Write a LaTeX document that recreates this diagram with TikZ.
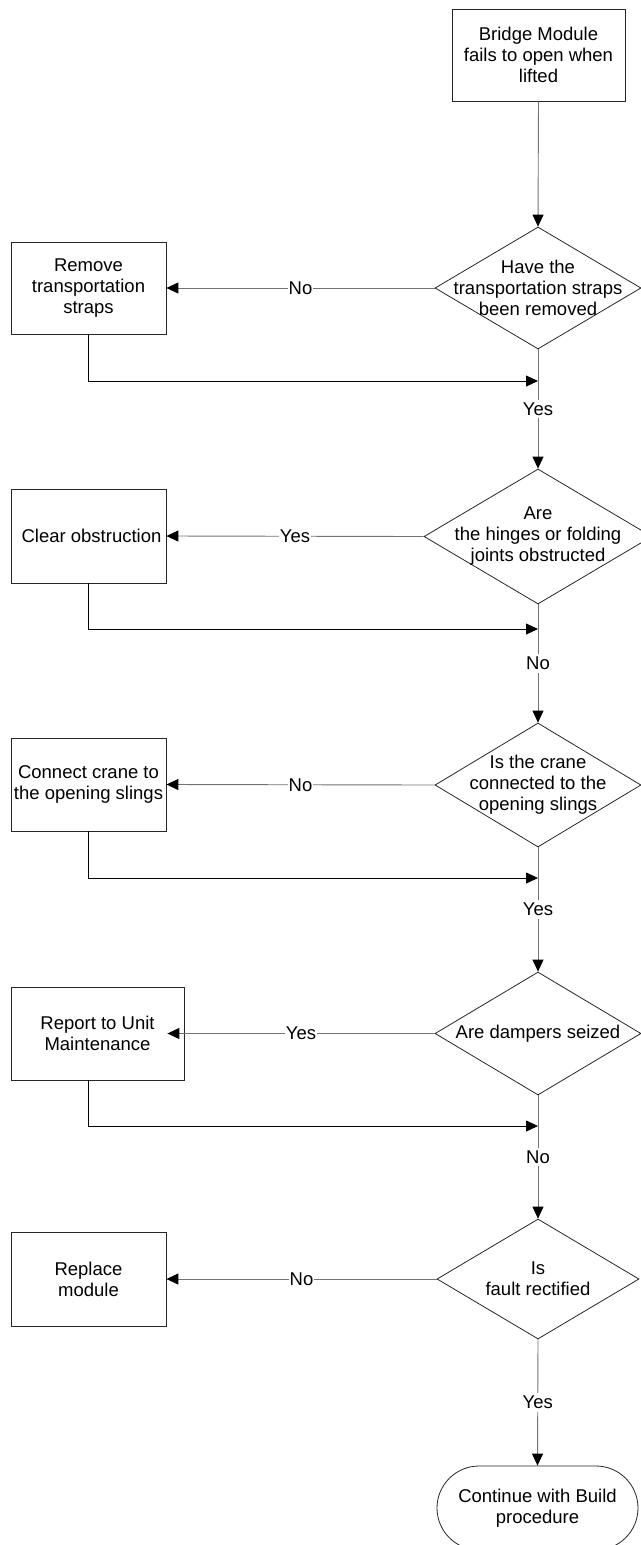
\documentclass[tikz,border=0pt]{standalone}
\usepackage{fontspec}
\setmainfont{Liberation Sans}
\usetikzlibrary{shapes.geometric,arrows.meta}
\begin{document}
\begin{tikzpicture}[x=1pt,y=-1pt,
  font=\fontsize{18.5}{21}\selectfont,
  procbox/.style={draw=black!85, line width=0.8pt, rectangle, align=center, inner sep=0pt},
  decision/.style={draw=black!85, line width=0.8pt, diamond, inner sep=0pt},
  qtext/.style={align=center, inner sep=0pt},
  terminal/.style={draw=black!85, line width=0.8pt, rectangle, rounded corners=42pt, align=center, inner sep=0pt},
  tip/.style={-{Triangle[length=12pt,width=11pt,color=black]}},
  conn/.style={draw=black!55, line width=0.9pt, tip},
  merge/.style={draw=black, line width=0.8pt, tip},
  lbl/.style={fill=white, inner xsep=1pt, inner ysep=3pt, text=black}]

\useasboundingbox (0,0) rectangle (640,1545);

% start box
\node[procbox, minimum width=173pt, minimum height=92pt] (start) at (538.5,55)
  {Bridge Module\\fails to open when\\lifted};

% decisions along the main spine
\node[decision, minimum width=206pt, minimum height=122pt] (d1) at (538,288) {};
\node[qtext] (q1) at (d1) {Have the\\transportation straps\\been removed};
\node[decision, minimum width=228pt, minimum height=135pt] (d2) at (538,536.5) {};
\node[qtext] (q2) at (d2) {Are\\the hinges or folding\\joints obstructed};
\node[decision, minimum width=206pt, minimum height=124pt] (d3) at (538,785) {};
\node[qtext] (q3) at (d3) {Is the crane\\connected to the\\opening slings};
\node[decision, minimum width=206pt, minimum height=123pt] (d4) at (538,1033.5) {};
\node[qtext] (q4) at (d4) {Are dampers seized};
\node[decision, minimum width=202pt, minimum height=120pt] (d5) at (538,1279) {};
\node[qtext] (q5) at (d5) {Is\\fault rectified};

% end terminal
\node[terminal, minimum width=201pt, minimum height=84pt] (finish) at (537.5,1508)
  {Continue with Build\\procedure};

% corrective actions on the left
\node[procbox, minimum width=155pt, minimum height=92pt] (b1) at (88.5,288)
  {Remove\\transportation\\straps};
\node[procbox, minimum width=155pt, minimum height=94pt] (b2) at (88.5,536)
  {\hspace*{6pt}Clear obstruction};
\node[procbox, minimum width=155pt, minimum height=93pt] (b3) at (88.5,784.5)
  {Connect crane to\\the opening slings};
\node[procbox, minimum width=173pt, minimum height=93pt] (b4) at (97.5,1033.5)
  {Report to Unit\\Maintenance};
\node[procbox, minimum width=155pt, minimum height=94pt] (b5) at (88.5,1279)
  {Replace\\module};

% points where the return paths rejoin the spine
\coordinate (m1) at (538,381);
\coordinate (m2) at (538,629);
\coordinate (m3) at (538,878);
\coordinate (m4) at (538,1126);

% main spine
\draw[conn] (start.south) -- (d1.north);
\draw[conn] (d1.south) -- node[lbl] (l1) {Yes} (d2.north);
\draw[conn] (d2.south) -- node[lbl] (l2) {No} (d3.north);
\draw[conn] (d3.south) -- node[lbl] (l3) {Yes} (d4.north);
\draw[conn] (d4.south) -- node[lbl] (l4) {No} (d5.north);
\draw[conn] (d5.south) -- node[lbl] (l5) {Yes} (finish.north);

% branches to the corrective actions
\draw[conn] (d1.west) -- node[lbl] (h1) {No} (b1.east);
\draw[conn] (d2.west) -- node[lbl] (h2) {Yes} (b2.east);
\draw[conn] (d3.west) -- node[lbl] (h3) {No} (b3.east);
\draw[conn] (d4.west) -- node[lbl] (h4) {Yes} ([xshift=-17pt]b4.east);
\draw[conn] (d5.west) -- node[lbl] (h5) {No} (b5.east);

% return paths
\draw[merge] (b1.south) |- (m1);
\draw[merge] (b2.south) |- (m2);
\draw[merge] (b3.south) |- (m3);
\draw[merge] (b4.south -| b1.south) |- (m4);

\end{tikzpicture}
\end{document}
